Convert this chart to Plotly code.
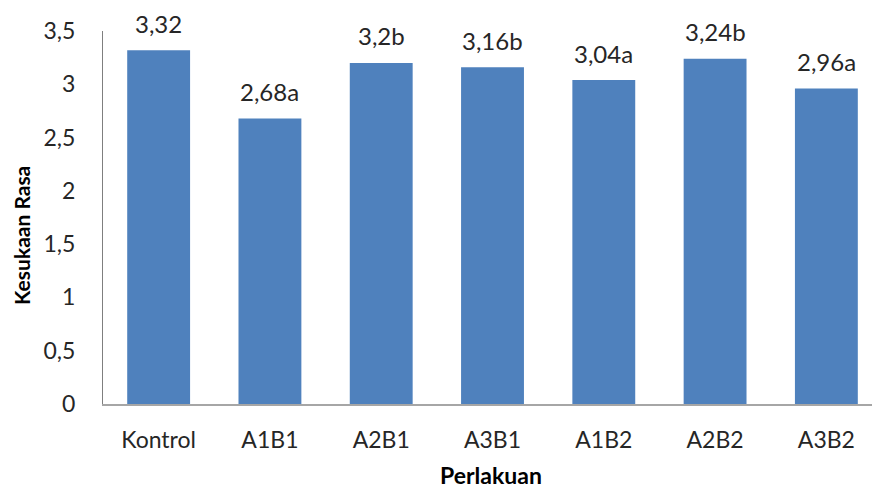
import plotly.graph_objects as go

categories = ["Kontrol", "A1B1", "A2B1", "A3B1", "A1B2", "A2B2", "A3B2"]
values = [3.32, 2.68, 3.20, 3.16, 3.04, 3.24, 2.96]
letters = ["", "a", "b", "b", "a", "b", "a"]
y_ticks = [0, 0.5, 1, 1.5, 2, 2.5, 3, 3.5]

W, H = 872, 488
ml, mr, mt, mb = 103, 0, 31, 84
FONT = "Lato"
TXT = "#262626"

fig = go.Figure()
fig.add_trace(go.Bar(
    x=categories, y=values,
    marker=dict(color="#4F81BD", line=dict(width=0)),
    width=0.565,
))

labels = [f"{v:g}".replace(".", ",") + l for v, l in zip(values, letters)]
for c, v, lab in zip(categories, values, labels):
    fig.add_annotation(x=c, y=v, text=lab, showarrow=False, yanchor="middle",
                       yshift=27, font=dict(family=FONT, size=24, color=TXT))

fig.add_annotation(xref="paper", yref="paper", x=(21 - ml) / (W - ml - mr),
                   y=1 - (236 - mt) / (H - mt - mb), text="<b>Kesukaan Rasa</b>",
                   textangle=-90, showarrow=False, xanchor="center", yanchor="middle",
                   font=dict(family=FONT, size=21, color="#000000"))
fig.add_annotation(xref="paper", yref="paper", x=(491 - ml) / (W - ml - mr),
                   y=-(475 - (H - mb)) / (H - mt - mb), text="<b>Perlakuan</b>",
                   showarrow=False, xanchor="center", yanchor="middle",
                   font=dict(family=FONT, size=23, color="#000000"))

fig.update_layout(
    width=W, height=H,
    margin=dict(l=ml, r=mr, t=mt, b=mb, pad=0),
    paper_bgcolor="#FFFFFF", plot_bgcolor="#FFFFFF",
    separators=",.",
    showlegend=False,
    font=dict(family=FONT, size=22, color=TXT),
)
fig.update_xaxes(range=[-0.5, 6.41], showline=True, linecolor="#A6A6A6", linewidth=1.5,
                 showgrid=False, ticks="", ticklabelstandoff=15,
                 tickfont=dict(family=FONT, size=23, color=TXT))
fig.update_yaxes(range=[0, 3.5], tickvals=y_ticks, showline=True, linecolor="#7F7F7F",
                 linewidth=1, showgrid=False, ticks="", ticklabelstandoff=22,
                 zeroline=False, tickfont=dict(family=FONT, size=23, color=TXT))

fig.write_html("out.html")
